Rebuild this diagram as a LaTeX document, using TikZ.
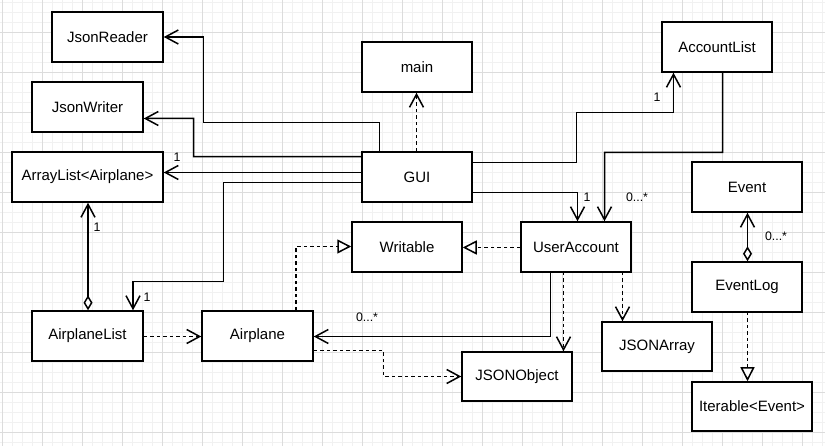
\documentclass[tikz,border=0pt]{standalone}
\usepackage{fontspec}
\setmainfont{Liberation Sans}
\usetikzlibrary{arrows.meta}
\definecolor{minorg}{HTML}{F1F1F1}
\definecolor{majorg}{HTML}{DCDCDC}
\begin{document}
\begin{tikzpicture}[x=1bp,y=-1bp,
  cls/.style={draw=black, fill=white, line width=1.5bp, minimum width=110bp, minimum height=50bp, inner sep=0pt, font=\fontsize{15.05}{17}\selectfont},
  lbl/.style={font=\fontsize{12.4}{14}\selectfont, inner sep=0pt},
  minorgrid/.style={draw=minorg, line width=0.6bp},
  majorgrid/.style={draw=majorg, line width=0.9bp},
  assoc/.style={draw=black, line width=1.5bp, -{Straight Barb[length=13bp,width=14bp]}},
  dep/.style={assoc, dash pattern=on 3.5bp off 3bp},
  real/.style={draw=black, line width=1.5bp, dash pattern=on 3.5bp off 3bp, -{Triangle[open,length=14bp,width=14bp,fill=white]}},
  aggr/.style={draw=black, line width=1.5bp, {Diamond[open,length=15bp,width=9bp,fill=white]}-{Straight Barb[length=13bp,width=14bp]}}
]
\useasboundingbox (0,0) rectangle (825,446);
\fill[white] (0,0) rectangle (825,446);
\foreach \i in {0,...,82} {\draw[minorgrid] ({2.5+10*\i},0) -- ({2.5+10*\i},446);}
\foreach \i in {0,...,44} {\draw[minorgrid] (0,{2.5+10*\i}) -- (825,{2.5+10*\i});}
\foreach \i in {0,...,20} {\draw[majorgrid] ({2.5+40*\i},0) -- ({2.5+40*\i},446);}
\foreach \i in {1,...,11} {\draw[majorgrid] (0,{-7.5+40*\i}) -- (825,{-7.5+40*\i});}

% classes
\node[cls, minimum width=111bp] (JsonReader) at (107.5,37) {JsonReader};
\node[cls, minimum width=111bp] (JsonWriter) at (87.5,107) {JsonWriter};
\node[cls, minimum width=151bp] (ArrayList) at (87.5,177) {ArrayList<Airplane>};
\node[cls] (main) at (417,67) {main};
\node[cls] (GUI) at (417,177) {GUI};
\node[cls] (AccountList) at (717,47) {AccountList};
\node[cls] (Event) at (747,187) {Event};
\node[cls] (Writable) at (407,247) {Writable};
\node[cls] (UserAccount) at (576,247) {UserAccount};
\node[cls] (EventLog) at (747,287) {EventLog};
\node[cls, minimum width=111bp] (AirplaneList) at (87.5,336) {AirplaneList};
\node[cls, minimum width=111bp] (Airplane) at (257.5,336) {Airplane};
\node[cls, minimum height=49bp] (JSONArray) at (657,346.5) {JSONArray};
\node[cls, minimum height=49bp] (JSONObject) at (517,376.5) {JSONObject};
\node[cls, minimum width=120bp, minimum height=49bp] (Iterable) at (752,406.5) {Iterable<Event>};

% helper coordinates
\coordinate (uaJO) at (563.5,272);
\coordinate (uaJA) at (622.5,272);
\coordinate (elS) at (747.5,312);

% connectors
\draw[assoc] ([xshift=-37.5bp]GUI.north) |- (203.5,122.5) |- (JsonReader.east);
\draw[assoc] ([yshift=-5.5bp]GUI.north west) -| (193.5,118.5) -- ([yshift=-11.5bp]JsonWriter.east);
\draw[assoc] ([yshift=4.5bp]GUI.west) -- ([yshift=4.5bp]ArrayList.east);
\node[lbl] (l1) at (177,157) {1};
\draw[assoc] ([yshift=-5.5bp]GUI.west) -| (223.5,281.5) -| ([xshift=45.5bp]AirplaneList.north);
\node[lbl] (l2) at (147,297) {1};
\draw[dep] ([xshift=-0.5bp]GUI.north) -- ([xshift=-0.5bp]main.south);
\draw[assoc] ([yshift=14.5bp]GUI.east) -| (576.5,112.5) -| ([xshift=-43.5bp]AccountList.south);
\node[lbl] (l3) at (657,97) {1};
\draw[assoc] ([xshift=5.5bp]AccountList.south) |- (604.5,152.5) -- ([xshift=28.5bp]UserAccount.north);
\node[lbl] (l4) at (637,197) {0...*};
\draw[assoc] ([yshift=-15.5bp]GUI.east) -| ([xshift=1.5bp]UserAccount.north);
\node[lbl] (l5) at (587,197) {1};
\draw[aggr] ([xshift=0.5bp]AirplaneList.north) -- ([xshift=0.5bp]ArrayList.south);
\node[lbl] (l6) at (97,227) {1};
\draw[dep] ([yshift=-0.5bp]AirplaneList.east) -- ([yshift=-0.5bp]Airplane.west);
\draw[real] ([xshift=38.5bp]Airplane.north) |- ([yshift=0.5bp]Writable.west);
\draw[real] ([yshift=-0.5bp]UserAccount.west) -- ([yshift=-0.5bp]Writable.east);
\draw[assoc] ([xshift=-25.5bp]UserAccount.south) |- ([yshift=-0.5bp]Airplane.east);
\node[lbl] (l7) at (367,317) {0...*};
\draw[dep] ([yshift=-14.5bp]Airplane.east) -| (383.5,376.5) -- (JSONObject.west);
\draw[dep] (uaJO) -- (uaJO |- JSONObject.north);
\draw[dep] (uaJA) -- (uaJA |- JSONArray.north);
\draw[aggr] ([xshift=0.5bp]EventLog.north) -- ([xshift=0.5bp]Event.south);
\node[lbl] (l8) at (776,236) {0...*};
\draw[real] (elS) -- (elS |- Iterable.north);
\end{tikzpicture}
\end{document}
